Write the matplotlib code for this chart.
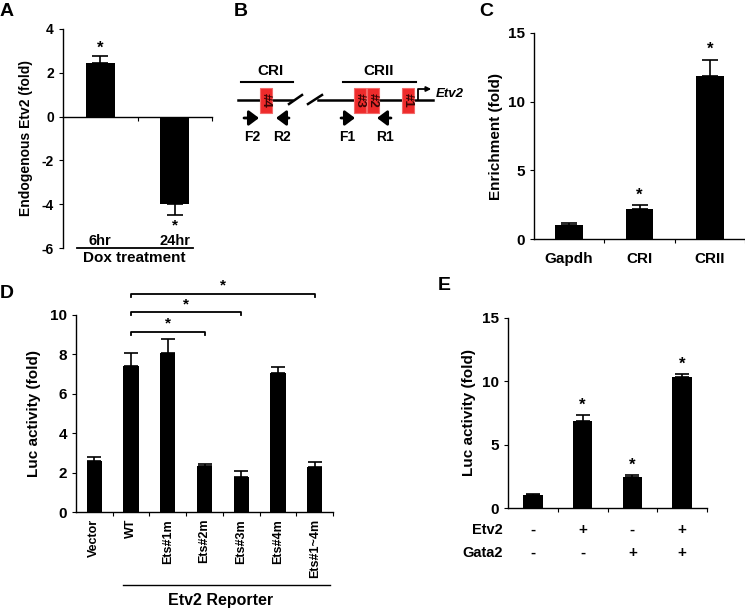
import numpy as np
import matplotlib
matplotlib.use("Agg")
import matplotlib.pyplot as plt
from matplotlib.transforms import blended_transform_factory as blend

plt.rcParams.update({"font.family": ["Liberation Sans", "DejaVu Sans"],
                     "font.weight": "bold", "axes.labelweight": "bold",
                     "axes.unicode_minus": False, "axes.linewidth": 1.0,
                     "xtick.direction": "out", "ytick.direction": "out",
                     "xtick.major.size": 3, "ytick.major.size": 3})

# ---- data ----
a_cats = ["6hr", "24hr"]
a_vals = [2.45, -4.0]
a_errs = [0.3, 0.5]
a_ticks = [-6, -4, -2, 0, 2, 4]

c_cats = ["Gapdh", "CRI", "CRII"]
c_vals = [1.0, 2.2, 11.85]
c_errs = [0.15, 0.27, 1.2]
c_star = [False, True, True]
c_ticks = [0, 5, 10, 15]

d_cats = ["Vector", "WT", "Ets#1m", "Ets#2m", "Ets#3m", "Ets#4m", "Ets#1~4m"]
d_vals = [2.6, 7.4, 8.05, 2.33, 1.8, 7.04, 2.3]
d_errs = [0.18, 0.68, 0.72, 0.13, 0.3, 0.34, 0.24]
d_ticks = [0, 2, 4, 6, 8, 10]
# (from, to, height) of significance brackets
d_brackets = [(1, 3, 9.15), (1, 4, 10.15), (1, 6, 11.07)]

e_vals = [1.05, 6.9, 2.45, 10.33]
e_errs = [0.05, 0.45, 0.15, 0.25]
e_star = [False, True, True, True]
e_etv2 = ["-", "+", "-", "+"]
e_gata2 = ["-", "-", "+", "+"]
e_ticks = [0, 5, 10, 15]

W, H = 745, 611
fig = plt.figure(figsize=(W / 100, H / 100), dpi=100)

def px_axes(x0, y0, x1, y1):
    return fig.add_axes([x0 / W, 1 - y1 / H, (x1 - x0) / W, (y1 - y0) / H])

def style(ax, ticks, size):
    ax.spines["top"].set_visible(False)
    ax.spines["right"].set_visible(False)
    ax.set_yticks(ticks, labels=[str(t) for t in ticks], fontsize=size, fontweight="bold")

# overlay in pixel coords for panel letters + schematic
ov = fig.add_axes([0, 0, 1, 1])
ov.set_xlim(0, W); ov.set_ylim(H, 0); ov.axis("off")
for lab, x, y in [("A", 7, 12), ("B", 241, 12), ("C", 486, 11), ("D", 7, 293), ("E", 444, 285)]:
    ov.text(x, y, lab, fontsize=14, ha="center", va="center")

# ============ A ============
ax = px_axes(63, 29, 212, 248)
x = np.arange(len(a_cats))
lo = [e if v < 0 else 0 for v, e in zip(a_vals, a_errs)]
hi = [e if v > 0 else 0 for v, e in zip(a_vals, a_errs)]
ax.bar(x, a_vals, width=0.39, color="black", zorder=2)
ax.errorbar(x, a_vals, yerr=[lo, hi], fmt="none", ecolor="black", elinewidth=1.2, capsize=6, capthick=1.2)
ax.spines["bottom"].set_position(("data", 0))
ax.set_xlim(-0.5, 1.5); ax.set_ylim(-6, 4)
ax.set_xticks([0.5, 1.5]); ax.set_xticklabels([])
style(ax, a_ticks, 10)
ax.set_ylabel("Endogenous Etv2 (fold)", fontsize=10)
ax.yaxis.set_label_coords(-0.2, 0.5)
for i, (v, e) in enumerate(zip(a_vals, a_errs)):
    if v > 0:
        ax.text(i, v + e + 0.05, "*", ha="center", va="bottom", fontsize=12)
    else:
        ax.text(i, v - e - 0.15, "*", ha="center", va="top", fontsize=11)
    ax.text(i, -5.68, a_cats[i], ha="center", va="center", fontsize=10.5)
ax.plot([-0.31, 1.245], [-6, -6], color="black", lw=1.3, clip_on=False)
ax.text(0.48, -0.045, "Dox treatment", transform=ax.transAxes, ha="center", va="center", fontsize=11)

# ============ B (schematic) ============
box_x = [(260, "#4"), (354, "#3"), (367, "#2"), (402, "#1")]
for x0, t in box_x:
    ov.add_patch(plt.Rectangle((x0, 88), 12, 25, facecolor="#ee2b2b", edgecolor="#f36a6a",
                               lw=0.8, zorder=3))
    ov.text(x0 + 6, 100.5, t, rotation=270, ha="center", va="center", fontsize=9.5, color="#3a0505", zorder=4)
for seg in [[(238, 100), (292, 100)], [(289, 104), (302, 95)], [(308, 104), (322, 95)], [(318, 100), (433, 100)]]:
    (x0, y0), (x1, y1) = seg
    ov.plot([x0, x1], [y0, y1], color="black", lw=1.8, zorder=2)
ov.plot([241, 293], [82, 82], color="black", lw=1.5)
ov.plot([343, 416], [82, 82], color="black", lw=1.5)
ov.text(270, 71, "CRI", ha="center", va="center", fontsize=11)
ov.text(379, 71, "CRII", ha="center", va="center", fontsize=11)
ov.plot([418, 418, 426], [100, 89, 89], color="black", lw=1.3)
ov.annotate("", xy=(434, 89), xytext=(424, 89),
            arrowprops=dict(arrowstyle="-|>", color="black", lw=1.3, mutation_scale=7))
ov.text(436, 94, "Etv2", style="italic", ha="left", va="center", fontsize=9.5)
for xs, xe, lab, lx in [(244, 259, "F2", 252), (289, 276, "R2", 282), (341, 355, "F1", 347), (391, 377, "R1", 385)]:
    ov.annotate("", xy=(xe, 118), xytext=(xs, 118),
                arrowprops=dict(arrowstyle="-|>,head_length=0.6,head_width=0.45", color="black",
                                lw=2, mutation_scale=10, shrinkA=0, shrinkB=0))
    ov.text(lx, 137, lab, ha="center", va="center", fontsize=10)

# ============ C ============
ax = px_axes(534, 33, 745, 239)
x = np.arange(len(c_cats))
ax.bar(x, c_vals, width=0.39, color="black", zorder=2)
ax.errorbar(x, c_vals, yerr=[[0] * 3, c_errs], fmt="none", ecolor="black", elinewidth=1.2, capsize=6, capthick=1.2)
ax.set_xlim(-0.5, 2.5); ax.set_ylim(0, 15)
ax.set_xticks([0.5, 1.5, 2.5], minor=False); ax.set_xticklabels([])
ax.set_xticks(x, minor=True); ax.set_xticklabels(c_cats, minor=True, fontsize=11, fontweight="bold")
ax.tick_params(axis="x", which="minor", length=0, pad=9)
style(ax, c_ticks, 11)
ax.set_ylabel("Enrichment (fold)", fontsize=11)
ax.yaxis.set_label_coords(-0.147, 0.5)
for i, (v, e, s) in enumerate(zip(c_vals, c_errs, c_star)):
    if s:
        ax.text(i, v + e + 0.2, "*", ha="center", va="bottom", fontsize=12)

# ============ D ============
ax = px_axes(76, 315, 333, 512)
x = np.arange(len(d_cats))
ax.bar(x, d_vals, width=0.42, color="black", zorder=2)
ax.errorbar(x, d_vals, yerr=[[0] * 7, d_errs], fmt="none", ecolor="black", elinewidth=1.2, capsize=5, capthick=1.2)
ax.set_xlim(-0.5, 6.5); ax.set_ylim(0, 10)
ax.set_xticks(np.arange(0.5, 7, 1)); ax.set_xticklabels([])
ax.set_xticks(x, minor=True)
ax.set_xticklabels(d_cats, minor=True, rotation=90, fontsize=9, fontweight="bold")
ax.tick_params(axis="x", which="minor", length=0, pad=5)
style(ax, d_ticks, 11)
ax.set_ylabel("Luc activity (fold)", fontsize=11)
ax.yaxis.set_label_coords(-0.136, 0.5)
for a, b, h in d_brackets:
    ax.plot([a, a, b, b], [h - 0.15, h, h, h - 0.15], color="black", lw=1.3, clip_on=False)
    ax.text((a + b) / 2, h + 0.05, "*", ha="center", va="bottom", fontsize=11)
ax.plot([0.78, 6.42], [-0.37, -0.37], color="black", lw=1.0, clip_on=False,
        transform=blend(ax.transData, ax.transAxes))
ax.text(3.45, -0.447, "Etv2 Reporter", ha="center", va="center", fontsize=11.5,
        transform=blend(ax.transData, ax.transAxes))

# ============ E ============
ax = px_axes(508, 318, 707, 508)
x = np.arange(len(e_vals))
ax.bar(x, e_vals, width=0.39, color="black", zorder=2)
ax.errorbar(x, e_vals, yerr=[[0] * 4, e_errs], fmt="none", ecolor="black", elinewidth=1.2, capsize=5, capthick=1.2)
ax.set_xlim(-0.5, 3.5); ax.set_ylim(0, 15)
ax.set_xticks(np.arange(0.5, 4, 1)); ax.set_xticklabels([])
style(ax, e_ticks, 11)
ax.set_ylabel("Luc activity (fold)", fontsize=11)
ax.yaxis.set_label_coords(-0.16, 0.5)
for i, (v, e, s) in enumerate(zip(e_vals, e_errs, e_star)):
    if s:
        ax.text(i, v + e + 0.2, "*", ha="center", va="bottom", fontsize=12)
tr = blend(ax.transData, ax.transAxes)
for row, signs, yy in [("Etv2", e_etv2, -0.116), ("Gata2", e_gata2, -0.237)]:
    ax.text(-0.025, yy, row, transform=ax.transAxes, ha="right", va="center", fontsize=10.5)
    for i, sg in enumerate(signs):
        ax.text(i, yy, sg, transform=tr, ha="center", va="center", fontsize=11)

fig.savefig("out.png", dpi=100)
